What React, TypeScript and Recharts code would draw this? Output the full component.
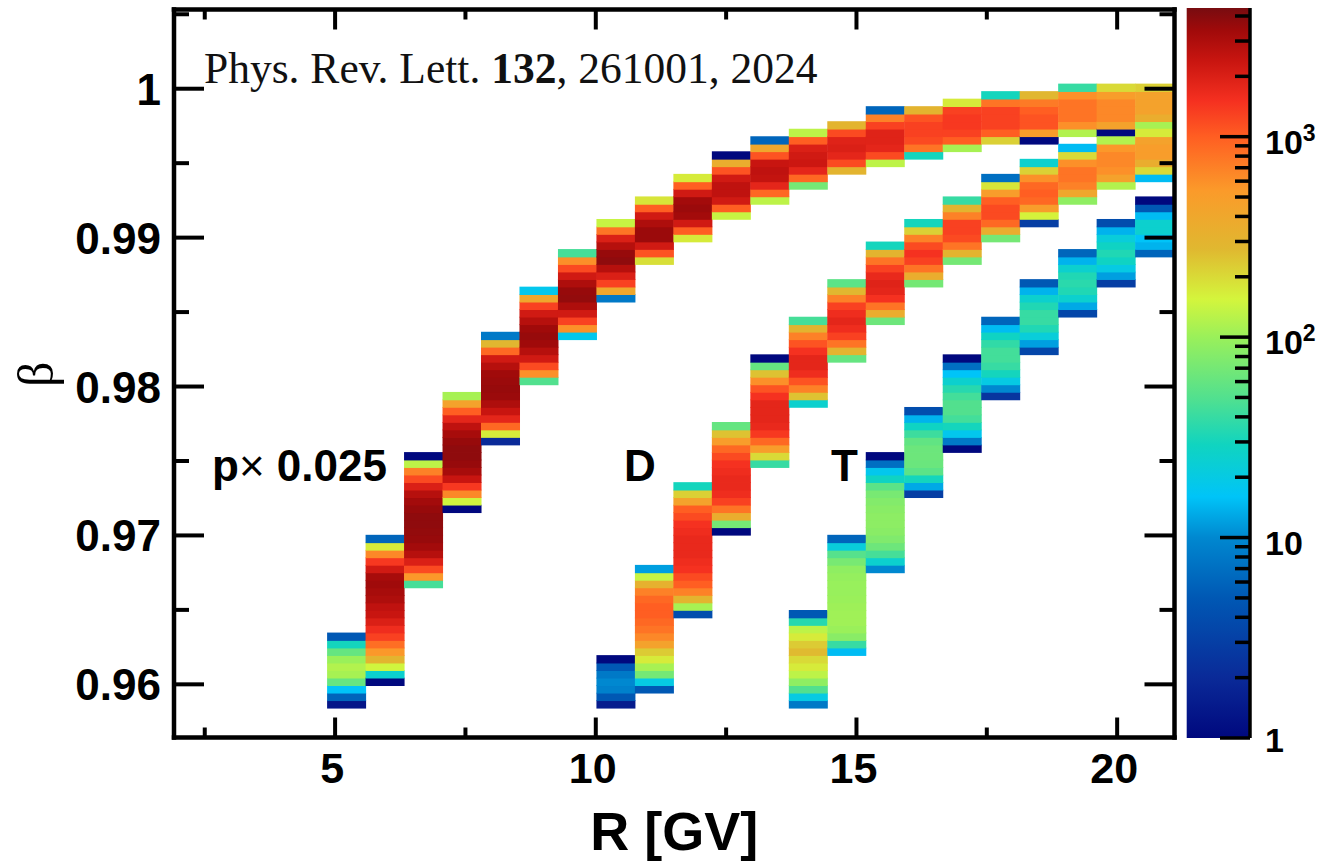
import React from 'react';
import { Bar, ComposedChart, XAxis, YAxis } from 'recharts';

// bin edges of the histogram: rigidity columns and beta rows
const R_FIRST_EDGE = 4.85;
const R_BIN = 0.738;
const BETA_FIRST_EDGE = 0.9584;
const BETA_BIN = 0.000505;
const CELL_WIDTH = 39;

// colour scale
const stopCounts = [1, 2, 5, 10, 16, 29, 49, 100, 155, 275, 540, 1000, 1510, 2400, 3400, 4385];
const stopColors = ['#00087e', '#0a2a98', '#0058b4', '#0088d0', '#00c4f8', '#10d4c0', '#50e090', '#9af05a', '#d4f53c', '#e0b830', '#fb9a2a', '#ff5e22', '#f53020', '#c81510', '#a00a0a', '#780c10'];
const COUNT_MAX = 4385;

// proton columns, first column index 0
const protonStart = [0, 3, 16, 26, 35, 43, 49, 54, 59, 62, 65, 67, 69, 71, 72, 73, 74, 75, 75, 76, 76, 77];
const protonCounts = [
  [1.3, 6, 16, 60, 110, 120, 100, 60, 30, 5],
  [1, 25, 150, 300, 550, 850, 1300, 1600, 2000, 2400, 2600, 3000, 3200, 3400, 3200, 2200, 1400, 650, 170, 6],
  [45, 550, 1200, 2000, 2800, 3300, 3600, 3700, 3800, 3800, 3600, 3300, 2800, 2000, 1200, 700, 130, 1],
  [1, 150, 650, 1400, 2400, 3200, 3600, 3800, 3800, 3600, 3200, 2600, 1800, 1000, 450, 110],
  [2, 170, 900, 1800, 2400, 3000, 3500, 3600, 3500, 3400, 2800, 2200, 900, 280, 8],
  [50, 600, 1200, 2200, 2800, 3400, 3600, 3400, 2800, 2200, 1300, 400, 18],
  [18, 600, 1300, 2200, 3000, 3700, 3600, 3000, 2200, 1200, 600, 45],
  [8, 400, 1300, 2000, 2800, 3800, 3600, 2800, 2000, 800, 140],
  [190, 1100, 2200, 3500, 3500, 3000, 2200, 1000, 180],
  [170, 1000, 2200, 3300, 3500, 3300, 2200, 1000, 170],
  [140, 1000, 2200, 2600, 2600, 2200, 1100, 350, 1],
  [130, 900, 1800, 2500, 2600, 2400, 1100, 400, 6],
  [70, 900, 1800, 2300, 2200, 2000, 1000, 130],
  [300, 1200, 1800, 2000, 1900, 1200, 300],
  [130, 1200, 1800, 1900, 1900, 1300, 700, 6],
  [30, 800, 1200, 1300, 1300, 1100, 300],
  [110, 1000, 1300, 1400, 1400, 1300, 170],
  [220, 1000, 1300, 1300, 1300, 800, 30],
  [1, 500, 1100, 1100, 1000, 750, 280],
  [120, 600, 800, 800, 800, 600, 40],
  [1, 450, 650, 650, 650, 500, 200],
  [110, 350, 450, 450, 450, 220],
];

// deuteron columns, first column index 7
const deuteronStart = [0, 2, 12, 23, 32, 40, 46, 51, 56, 59, 62, 64, 67, 69, 70];
const deuteronCounts = [
  [1.5, 5, 9, 10, 8, 5, 1],
  [5, 20, 70, 110, 170, 230, 450, 650, 800, 900, 1000, 1000, 900, 700, 320, 140, 12],
  [4, 110, 300, 700, 1000, 1200, 1500, 1600, 1700, 1700, 1700, 1600, 1500, 1200, 1000, 450, 220, 30],
  [1, 70, 350, 800, 1300, 1600, 1700, 1700, 1600, 1500, 1200, 900, 500, 250, 60],
  [40, 200, 500, 900, 1400, 1700, 1800, 1800, 1800, 1500, 1100, 600, 250, 60, 1],
  [25, 250, 700, 1100, 1600, 1800, 1800, 1500, 1100, 700, 300, 45],
  [60, 300, 800, 1300, 1600, 1800, 1600, 1300, 700, 280, 55],
  [65, 350, 800, 1500, 1800, 1900, 1700, 1300, 800, 300, 30],
  [70, 350, 800, 1300, 1500, 1200, 700, 220, 30],
  [70, 300, 800, 1200, 1300, 1300, 700, 300, 40],
  [70, 350, 900, 1200, 1200, 1000, 500, 180, 7],
  [3, 160, 500, 900, 1000, 900, 600, 220, 25],
  [90, 400, 700, 800, 800, 600, 200, 15],
  [120, 450, 600, 650, 650, 550, 120],
  [15, 200, 350, 500, 500, 450, 170],
];

// triton columns, first column index 12
const tritonStart = [0, 7, 18, 28, 34, 41, 47, 52, 56, 60];
const tritonCounts = [
  [8, 20, 50, 90, 130, 170, 200, 270, 230, 170, 130, 35, 5],
  [15, 40, 85, 100, 105, 105, 103, 100, 98, 98, 95, 90, 72, 52, 22, 6],
  [10, 25, 45, 65, 78, 85, 88, 88, 85, 80, 72, 55, 28, 18, 7, 1],
  [3, 13, 30, 55, 63, 65, 64, 58, 42, 28, 14, 4],
  [1, 8, 18, 30, 44, 50, 50, 44, 35, 25, 16, 7, 1],
  [2.5, 10, 20, 30, 40, 44, 44, 38, 28, 15, 6],
  [3.5, 12, 22, 33, 40, 40, 33, 25, 14, 5],
  [3.5, 13, 25, 33, 36, 33, 25, 14, 6],
  [3, 12, 20, 28, 33, 28, 22, 14, 4],
  [6, 14, 16, 25, 25, 15, 5, 1],
];

const rTicks = [2.5, 5, 7.5, 10, 12.5, 15, 17.5, 20];
const rLabels = [5, 10, 15, 20];
const betaTicks = [0.96, 0.965, 0.97, 0.975, 0.98, 0.985, 0.99, 0.995, 1, 1.005];
const betaLabels = [0.96, 0.97, 0.98, 0.99, 1];
const scaleTicks = [1, 2, 3, 4, 5, 6, 7, 8, 9, 10, 20, 30, 40, 50, 60, 70, 80, 90, 100, 200, 300, 400, 500, 600, 700, 800, 900, 1000, 2000, 3000, 4000];
const scaleLabels = [1, 10, 100, 1000];

const FONT = '"Liberation Sans", Arial, sans-serif';

const hexToRgb = (hex: string) => [1, 3, 5].map(i => parseInt(hex.slice(i, i + 2), 16));

const colorOf = (count: number) => {
  const v = Math.log10(count);
  let i = 0;
  while (i < stopCounts.length - 2 && Math.log10(stopCounts[i + 1]) < v) i++;
  const lo = Math.log10(stopCounts[i]);
  const hi = Math.log10(stopCounts[i + 1]);
  const t = Math.min(1, Math.max(0, (v - lo) / (hi - lo)));
  const a = hexToRgb(stopColors[i]);
  const b = hexToRgb(stopColors[i + 1]);
  return `rgb(${a.map((c, k) => Math.round(c + (b[k] - c) * t)).join(',')})`;
};

const buildCells = (firstColumn: number, starts: number[], counts: number[][]) =>
  counts.flatMap((column, c) =>
    column.map((count, k) => {
      const bin = starts[c] + k;
      return {
        r: R_FIRST_EDGE + (firstColumn + c + 0.5) * R_BIN,
        beta: [BETA_FIRST_EDGE + bin * BETA_BIN, BETA_FIRST_EDGE + (bin + 1) * BETA_BIN],
        count,
      };
    }),
  );

const cells = [
  ...buildCells(0, protonStart, protonCounts),
  ...buildCells(7, deuteronStart, deuteronCounts),
  ...buildCells(12, tritonStart, tritonCounts),
];

// small overlap so that neighbouring bins leave no hairline between them
const CellShape = (props: any) => (
  <rect
    x={props.x + props.width / 2 - CELL_WIDTH / 2}
    y={props.y - 0.4}
    width={CELL_WIDTH}
    height={props.height + 0.8}
    fill={colorOf(props.payload.count)}
  />
);

const BottomTick = ({ x, y, payload }: any) => {
  const major = rLabels.includes(payload.value);
  return (
    <g>
      <line x1={x} x2={x} y1={y} y2={y - (major ? 20 : 10)} stroke="#000" strokeWidth={4} />
      {major && (
        <text x={x - 3} y={y + 45} textAnchor="middle" fontFamily={FONT} fontWeight={700} fontSize={43} fill="#000">
          {payload.value}
        </text>
      )}
    </g>
  );
};

const TopTick = ({ x, y, payload }: any) => (
  <line x1={x} x2={x} y1={y} y2={y + (rLabels.includes(payload.value) ? 20 : 10)} stroke="#000" strokeWidth={4} />
);

const LeftTick = ({ x, y, payload }: any) => {
  const major = betaLabels.includes(payload.value);
  return (
    <g>
      <line x1={x} x2={x + (major ? 30 : 15)} y1={y} y2={y} stroke="#000" strokeWidth={4} />
      {major && (
        <text x={x - 13} y={y + 16} textAnchor="end" fontFamily={FONT} fontWeight={700} fontSize={44} fill="#000">
          {payload.value}
        </text>
      )}
    </g>
  );
};

const RightTick = ({ x, y, payload }: any) => (
  <line x1={x} x2={x - (betaLabels.includes(payload.value) ? 30 : 15)} y1={y} y2={y} stroke="#000" strokeWidth={4} />
);

const ScaleTick = ({ x, y, payload }: any) => {
  const major = scaleLabels.includes(payload.value);
  const exponent = Math.round(Math.log10(payload.value));
  return (
    <g>
      <line x1={x} x2={x - (major ? 30 : 15)} y1={y} y2={y} stroke="#000" strokeWidth={3.5} />
      {major && (
        <text x={x + 15} y={y + (exponent === 0 ? 14 : 17)} fontFamily={FONT} fontWeight={700} fontSize={34} fill="#000">
          {exponent === 0 ? '1' : '10'}
          {exponent > 1 && (
            <tspan dy={-13} fontSize={23}>
              {exponent}
            </tspan>
          )}
        </text>
      )}
    </g>
  );
};

const scaleData = [{ name: 'counts', span: [1, COUNT_MAX] }];

export default function App() {
  return (
    <div style={{ position: 'fixed', left: 0, top: 0, width: 1320, height: 865, background: '#fff' }}>
      <div style={{ position: 'absolute', left: 0, top: 0 }}>
        <ComposedChart
          width={1320}
          height={865}
          data={cells}
          barCategoryGap={0}
          margin={{ top: 8.5, left: 74, right: 144.5, bottom: 97.5 }}
        >
          <Bar
            dataKey="beta"
            xAxisId="bottom"
            yAxisId="left"
            barSize={39}
            shape={CellShape}
            isAnimationActive={false}
          />
          <XAxis
            xAxisId="bottom"
            dataKey="r"
            type="number"
            domain={[1.91, 21.1]}
            allowDataOverflow
            ticks={rTicks}
            interval={0}
            height={30}
            tickSize={0}
            tickMargin={0}
            tickLine={false}
            tick={BottomTick}
            axisLine={{ stroke: '#000', strokeWidth: 4.5, strokeLinecap: 'square' }}
            label={{ value: 'R [GV]', position: 'bottom', offset: 44, style: { fontFamily: FONT, fontWeight: 700, fontSize: 54, fill: '#000' } }}
          />
          <XAxis
            xAxisId="top"
            orientation="top"
            dataKey="r"
            type="number"
            domain={[1.91, 21.1]}
            allowDataOverflow
            ticks={rTicks}
            interval={0}
            height={1}
            tickSize={0}
            tickMargin={0}
            tickLine={false}
            tick={TopTick}
            axisLine={{ stroke: '#000', strokeWidth: 4.5, strokeLinecap: 'square' }}
          />
          <YAxis
            yAxisId="left"
            type="number"
            domain={[0.95643, 1.00532]}
            allowDataOverflow
            ticks={betaTicks}
            interval={0}
            width={100}
            tickSize={0}
            tickMargin={0}
            tickLine={false}
            tick={LeftTick}
            axisLine={{ stroke: '#000', strokeWidth: 4.5, strokeLinecap: 'square' }}
          />
          <YAxis
            yAxisId="right"
            orientation="right"
            type="number"
            domain={[0.95643, 1.00532]}
            allowDataOverflow
            ticks={betaTicks}
            interval={0}
            width={1}
            tickSize={0}
            tickMargin={0}
            tickLine={false}
            tick={RightTick}
            axisLine={{ stroke: '#000', strokeWidth: 4.5, strokeLinecap: 'square' }}
          />
          <text x={0} y={0} transform="translate(53 387) rotate(-90)" fontFamily='"Liberation Serif", serif' fontSize={50} fill="#000">
            β
          </text>
          <text x={212} y={481} fontFamily={FONT} fontWeight={700} fontSize={44} fill="#000">
            p<tspan fontWeight={400}>×</tspan> 0.025
          </text>
          <text x={624} y={481} fontFamily={FONT} fontWeight={700} fontSize={44} fill="#000">
            D
          </text>
          <text x={831} y={481} fontFamily={FONT} fontWeight={700} fontSize={44} fill="#000">
            T
          </text>
          <text x={204} y={83} fontFamily='"Liberation Serif", serif' fontSize={43.5} fill="#111">
            Phys. Rev. Lett. <tspan fontWeight={700}>132</tspan>, 261001, 2024
          </text>
        </ComposedChart>
      </div>
      <div style={{ position: 'absolute', left: 1175, top: 0 }}>
        <ComposedChart
          width={145}
          height={865}
          data={scaleData}
          barCategoryGap={0}
          margin={{ top: 8, left: 11.7, right: 0, bottom: 127 }}
        >
          <defs>
            <linearGradient id="jetScale" x1="0" y1="0" x2="0" y2="1">
              {stopCounts.map((c, i) => (
                <stop key={c} offset={1 - Math.log10(c) / Math.log10(COUNT_MAX)} stopColor={stopColors[i]} />
              )).reverse()}
            </linearGradient>
          </defs>
          <XAxis dataKey="name" hide />
          <YAxis
            orientation="right"
            scale="log"
            type="number"
            domain={[1, COUNT_MAX]}
            allowDataOverflow
            ticks={scaleTicks}
            interval={0}
            width={70}
            tickSize={0}
            tickMargin={0}
            tickLine={false}
            tick={ScaleTick}
            axisLine={{ stroke: '#000', strokeWidth: 3.5 }}
          />
          <Bar dataKey="span" fill="url(#jetScale)" isAnimationActive={false} />
        </ComposedChart>
      </div>
    </div>
  );
}
